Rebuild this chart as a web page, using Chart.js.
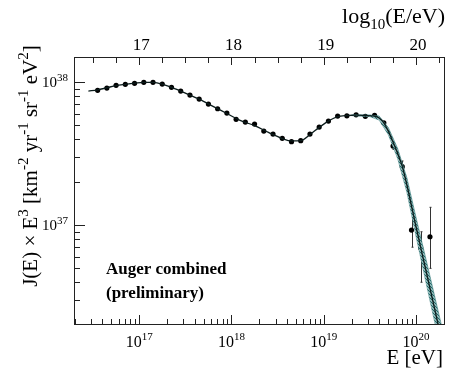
<!DOCTYPE html>
<html>
<head>
<meta charset="utf-8">
<script src="https://cdn.jsdelivr.net/npm/chart.js@4.4.1/dist/chart.umd.min.js"></script>
<style>
html, body { margin: 0; padding: 0; background: #fff; }
</style>
</head>
<body>
<canvas id="chart" width="463" height="382"></canvas>
<script>
// measured points: log10(E/eV) and log10(J*E^3)
const dataLogE = [16.55, 16.65, 16.75, 16.85, 16.95, 17.05, 17.15, 17.25, 17.35, 17.45,
	17.55, 17.65, 17.75, 17.85, 17.95, 18.05, 18.15, 18.25, 18.35, 18.45,
	18.55, 18.65, 18.75, 18.85, 18.95, 19.05, 19.15, 19.25, 19.35, 19.45,
	19.55, 19.65, 19.75, 19.85, 19.95, 20.05, 20.15];
const dataLogFlux = [37.942, 37.958, 37.977, 37.984, 37.991, 37.998, 37.998, 37.986, 37.963, 37.937,
	37.909, 37.881, 37.846, 37.813, 37.783, 37.739, 37.720, 37.706, 37.657, 37.636,
	37.606, 37.583, 37.590, 37.636, 37.685, 37.727, 37.762, 37.764, 37.771, 37.760,
	37.767, 37.715, 37.552, 37.408, 36.965, 36.840, 36.918];

// error bars (only visible on the last bins)
const errLogE = [19.75, 19.85, 19.95, 20.05, 20.15];
const errLogHigh = [37.571, 37.448, 37.082, 36.953, 37.124];
const errLogLow = [37.529, 37.373, 36.845, 36.600, 36.697];

// fitted curve
const fitLogE = [16.45, 16.55, 16.65, 16.75, 16.85, 16.95, 17.05, 17.15, 17.25, 17.35,
	17.5, 17.65, 17.8, 17.95, 18.1, 18.25, 18.4, 18.55, 18.65, 18.75,
	18.85, 18.95, 19.05, 19.15, 19.25, 19.35, 19.45, 19.55, 19.6, 19.65,
	19.7, 19.75, 19.8, 19.85, 19.9, 20.0, 20.1, 20.2, 20.3];
const fitLogFlux = [37.937, 37.945, 37.960, 37.975, 37.984, 37.992, 37.998, 37.997, 37.985, 37.963,
	37.923, 37.880, 37.830, 37.780, 37.730, 37.695, 37.648, 37.605, 37.588, 37.590,
	37.632, 37.683, 37.727, 37.758, 37.766, 37.768, 37.766, 37.762, 37.748, 37.715,
	37.655, 37.580, 37.500, 37.410, 37.280, 36.985, 36.700, 36.415, 36.130];

// uncertainty band of the fit
const bandLogE = [19.3, 19.5, 19.6, 19.7, 19.8, 19.9, 20.0, 20.1, 20.2, 20.3];
const bandLogUpper = [37.771, 37.770, 37.762, 37.680, 37.535, 37.330, 37.050, 36.780, 36.505, 36.230];
const bandLogLower = [37.765, 37.758, 37.734, 37.630, 37.465, 37.230, 36.920, 36.620, 36.325, 36.030];

// axes
const xDecades = [17, 18, 19, 20];
const yDecades = [37, 38];
const topTicks = [16.5, 16.75, 17, 17.25, 17.5, 17.75, 18, 18.25, 18.5, 18.75, 19, 19.25, 19.5, 19.75, 20, 20.25];
const topLabels = [17, 18, 19, 20];
const xLogRange = [16.294, 20.302];
const yLogRange = [36.308, 38.175];

const FONT = "'Liberation Serif', 'DejaVu Serif', serif";

const pts = (xs, ys) => xs.map((v, i) => ({ x: 10 ** v, y: 10 ** ys[i] }));

function bandPattern() {
	const c = document.createElement("canvas");
	c.width = 3; c.height = 3;
	const g = c.getContext("2d");
	g.fillStyle = "#8fb8b8";
	g.fillRect(0, 0, 3, 3);
	g.fillStyle = "#246868";
	g.fillRect(0, 0, 1, 1); g.fillRect(1, 1, 1, 1); g.fillRect(2, 2, 1, 1);
	return g.createPattern(c, "repeat");
}

// draws text made of normal / sup / sub pieces
function richText(ctx, parts, x, y, size, align) {
	const small = Math.round(size * 0.7);
	const widths = parts.map(([t, kind]) => {
		ctx.font = (kind === "n" ? size : small) + "px " + FONT;
		return ctx.measureText(t).width;
	});
	const total = widths.reduce((a, b) => a + b, 0);
	let cx = align === "right" ? x - total : align === "center" ? x - total / 2 : x;
	ctx.textAlign = "left";
	ctx.textBaseline = "alphabetic";
	parts.forEach(([t, kind], i) => {
		ctx.font = (kind === "n" ? size : small) + "px " + FONT;
		const dy = kind === "sup" ? -size * 0.42 : kind === "sub" ? size * 0.28 : 0;
		ctx.fillText(t, cx, y + dy);
		cx += widths[i];
	});
}

const decorations = {
	id: "decorations",
	beforeDatasetsDraw(chart) {
		const { ctx, scales: { x, y } } = chart;
		ctx.save();
		ctx.strokeStyle = "#333";
		ctx.lineWidth = 1;
		errLogE.forEach((e, i) => {
			const px = Math.round(x.getPixelForValue(10 ** e)) + 0.5;
			const y1 = y.getPixelForValue(10 ** errLogHigh[i]);
			const y2 = y.getPixelForValue(10 ** errLogLow[i]);
			ctx.beginPath();
			ctx.moveTo(px, y1); ctx.lineTo(px, y2);
			ctx.moveTo(px - 1, y1); ctx.lineTo(px + 1, y1);
			ctx.moveTo(px - 1, y2); ctx.lineTo(px + 1, y2);
			ctx.stroke();
		});
		ctx.restore();
	},
	afterDraw(chart) {
		const { ctx, chartArea: a, scales: { x, y } } = chart;
		ctx.save();
		ctx.strokeStyle = "#222";
		ctx.fillStyle = "#000";
		ctx.lineWidth = 1;
		ctx.strokeRect(Math.round(a.left) + 0.5, Math.round(a.top) + 0.5,
			Math.round(a.right - a.left), Math.round(a.bottom - a.top));

		ctx.beginPath();
		// bottom axis: log ticks
		for (let d = 16; d <= 20; d++) {
			for (let k = 1; k <= 9; k++) {
				const v = k * 10 ** d;
				if (v < x.min || v > x.max) continue;
				const px = Math.round(x.getPixelForValue(v)) + 0.5;
				const len = k === 1 ? 9 : 5;
				ctx.moveTo(px, a.bottom); ctx.lineTo(px, a.bottom - len);
			}
		}
		// left axis
		for (let d = 36; d <= 38; d++) {
			for (let k = 1; k <= 9; k++) {
				const v = k * 10 ** d;
				if (v < y.min || v > y.max) continue;
				const py = Math.round(y.getPixelForValue(v)) + 0.5;
				const len = k === 1 ? 11 : 6;
				ctx.moveTo(a.left, py); ctx.lineTo(a.left + len, py);
			}
		}
		// top axis: linear in log10(E)
		topTicks.forEach(t => {
			const px = Math.round(x.getPixelForValue(10 ** t)) + 0.5;
			const len = Number.isInteger(t) ? 8 : 6;
			ctx.moveTo(px, a.top); ctx.lineTo(px, a.top + len);
		});
		ctx.stroke();

		// bottom labels
		xDecades.forEach(d => {
			const px = x.getPixelForValue(10 ** d);
			richText(ctx, [["10", "n"], [String(d), "sup"]], px, a.bottom + 23, 16, "center");
		});
		// left labels
		yDecades.forEach(d => {
			const py = y.getPixelForValue(10 ** d);
			richText(ctx, [["10", "n"], [String(d), "sup"]], a.left - 6, py + 5, 15, "right");
		});
		// top labels
		ctx.font = "17px " + FONT;
		ctx.textAlign = "center";
		ctx.textBaseline = "alphabetic";
		topLabels.forEach(t => {
			ctx.fillText(String(t), x.getPixelForValue(10 ** t) + 2, a.top - 7);
		});

		// titles
		richText(ctx, [["E [eV]", "n"]], a.right - 1, a.bottom + 40, 21, "right");
		richText(ctx, [["log", "n"], ["10", "sub"], ["(E/eV)", "n"]], a.right + 1, 23, 22, "right");

		ctx.save();
		ctx.translate(37, 166);
		ctx.rotate(-Math.PI / 2);
		richText(ctx, [["J(E) × E", "n"], ["3", "sup"], [" [km", "n"], ["-2", "sup"], [" yr", "n"],
			["-1", "sup"], [" sr", "n"], ["-1", "sup"], [" eV", "n"], ["2", "sup"], ["]", "n"]], 0, 0, 21, "center");
		ctx.restore();

		ctx.font = "bold 17px " + FONT;
		ctx.textAlign = "left";
		ctx.fillText("Auger combined", 106, 274);
		ctx.fillText("(preliminary)", 106, 298);
		ctx.restore();
	}
};

new Chart(document.getElementById("chart"), {
	type: "line",
	data: {
		datasets: [
			{
				data: pts(bandLogE, bandLogUpper),
				borderColor: "#3a7d7d", borderWidth: 0.6,
				backgroundColor: bandPattern(), fill: "+1",
				pointRadius: 0, order: 2,
			},
			{
				data: pts(bandLogE, bandLogLower),
				borderColor: "#3a7d7d", borderWidth: 0.6,
				fill: false, pointRadius: 0, order: 2,
			},
			{
				data: pts(fitLogE, fitLogFlux),
				borderColor: "#0c1c1c", borderWidth: 1.3,
				cubicInterpolationMode: "monotone",
				fill: false, pointRadius: 0, order: 0,
			},
			{
				data: pts(dataLogE, dataLogFlux),
				showLine: false,
				pointRadius: 2.6, pointBackgroundColor: "#000", pointBorderWidth: 0,
				order: 3,
			},
		]
	},
	options: {
		responsive: false,
		animation: false,
		devicePixelRatio: 1,
		layout: { padding: { left: 74, right: 19, top: 57, bottom: 58 } },
		plugins: { legend: { display: false }, tooltip: { enabled: false } },
		scales: {
			x: { type: "logarithmic", display: false, min: 10 ** xLogRange[0], max: 10 ** xLogRange[1] },
			y: { type: "logarithmic", display: false, min: 10 ** yLogRange[0], max: 10 ** yLogRange[1] },
		}
	},
	plugins: [decorations]
});
</script>
</body>
</html>
